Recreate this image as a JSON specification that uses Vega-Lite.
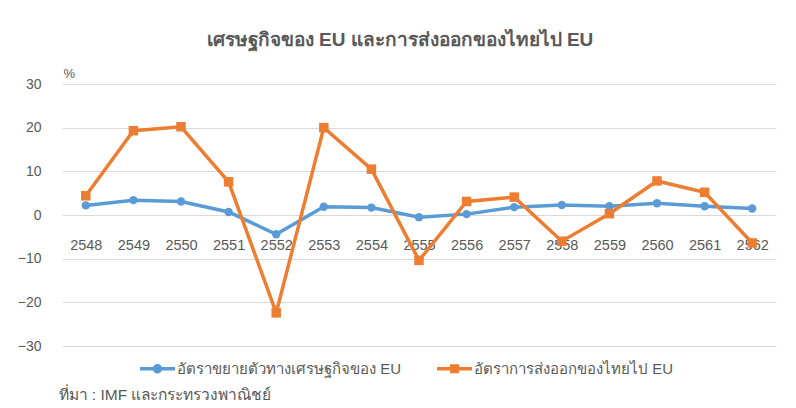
{
  "$schema": "https://vega.github.io/schema/vega-lite/v6.json",
  "width": 714,
  "height": 262,
  "autosize": {"type": "none"},
  "padding": {"left": 62, "top": 84, "right": 20, "bottom": 62},
  "background": "white",
  "config": {
    "font": "Liberation Sans",
    "view": {"stroke": null},
    "legend": {
      "orient": "none",
      "legendX": 78,
      "legendY": 267,
      "direction": "horizontal",
      "columns": 2,
      "columnPadding": 35,
      "symbolSize": 1225,
      "symbolStrokeWidth": 0,
      "symbolOpacity": 1,
      "labelFontSize": 15,
      "labelColor": "#595959",
      "labelOffset": 2,
      "labelLimit": 400,
      "padding": 0
    }
  },
  "title": {
    "text": "เศรษฐกิจของ EU และการส่งออกของไทยไป EU",
    "fontSize": 19,
    "fontWeight": "bold",
    "color": "#595959",
    "anchor": "middle",
    "dx": -19,
    "offset": 17
  },
  "data": {
    "values": [
      {"year": "2548", "series": "อัตราขยายตัวทางเศรษฐกิจของ EU", "value": 2.2},
      {"year": "2549", "series": "อัตราขยายตัวทางเศรษฐกิจของ EU", "value": 3.4},
      {"year": "2550", "series": "อัตราขยายตัวทางเศรษฐกิจของ EU", "value": 3.1},
      {"year": "2551", "series": "อัตราขยายตัวทางเศรษฐกิจของ EU", "value": 0.7},
      {"year": "2552", "series": "อัตราขยายตัวทางเศรษฐกิจของ EU", "value": -4.4},
      {"year": "2553", "series": "อัตราขยายตัวทางเศรษฐกิจของ EU", "value": 1.9},
      {"year": "2554", "series": "อัตราขยายตัวทางเศรษฐกิจของ EU", "value": 1.7},
      {"year": "2555", "series": "อัตราขยายตัวทางเศรษฐกิจของ EU", "value": -0.5},
      {"year": "2556", "series": "อัตราขยายตัวทางเศรษฐกิจของ EU", "value": 0.2},
      {"year": "2557", "series": "อัตราขยายตัวทางเศรษฐกิจของ EU", "value": 1.8},
      {"year": "2558", "series": "อัตราขยายตัวทางเศรษฐกิจของ EU", "value": 2.3},
      {"year": "2559", "series": "อัตราขยายตัวทางเศรษฐกิจของ EU", "value": 2.0},
      {"year": "2560", "series": "อัตราขยายตัวทางเศรษฐกิจของ EU", "value": 2.7},
      {"year": "2561", "series": "อัตราขยายตัวทางเศรษฐกิจของ EU", "value": 2.0},
      {"year": "2562", "series": "อัตราขยายตัวทางเศรษฐกิจของ EU", "value": 1.5},
      {"year": "2548", "series": "อัตราการส่งออกของไทยไป EU", "value": 4.4},
      {"year": "2549", "series": "อัตราการส่งออกของไทยไป EU", "value": 19.3},
      {"year": "2550", "series": "อัตราการส่งออกของไทยไป EU", "value": 20.2},
      {"year": "2551", "series": "อัตราการส่งออกของไทยไป EU", "value": 7.6},
      {"year": "2552", "series": "อัตราการส่งออกของไทยไป EU", "value": -22.4},
      {"year": "2553", "series": "อัตราการส่งออกของไทยไป EU", "value": 20.0},
      {"year": "2554", "series": "อัตราการส่งออกของไทยไป EU", "value": 10.5},
      {"year": "2555", "series": "อัตราการส่งออกของไทยไป EU", "value": -10.4},
      {"year": "2556", "series": "อัตราการส่งออกของไทยไป EU", "value": 3.1},
      {"year": "2557", "series": "อัตราการส่งออกของไทยไป EU", "value": 4.1},
      {"year": "2558", "series": "อัตราการส่งออกของไทยไป EU", "value": -6.0},
      {"year": "2559", "series": "อัตราการส่งออกของไทยไป EU", "value": 0.3},
      {"year": "2560", "series": "อัตราการส่งออกของไทยไป EU", "value": 7.8},
      {"year": "2561", "series": "อัตราการส่งออกของไทยไป EU", "value": 5.2},
      {"year": "2562", "series": "อัตราการส่งออกของไทยไป EU", "value": -6.4}
    ]
  },
  "encoding": {
    "x": {
      "field": "year",
      "type": "ordinal",
      "scale": {"type": "point", "padding": 0.5},
      "axis": {
        "orient": "bottom",
        "offset": -131,
        "domain": false,
        "ticks": false,
        "tickSize": 0,
        "grid": false,
        "labelAngle": 0,
        "labelPadding": 23,
        "labelFontSize": 14.5,
        "labelColor": "#595959",
        "title": "ที่มา : IMF และกระทรวงพาณิชย์",
        "titleFontSize": 15.5,
        "titleFontWeight": "normal",
        "titleColor": "#595959",
        "titleAlign": "left",
        "titleAnchor": "start",
        "titleBaseline": "middle",
        "titleX": -4,
        "titleY": 179
      }
    },
    "y": {
      "field": "value",
      "type": "quantitative",
      "scale": {"domain": [-30, 30], "nice": false, "zero": false},
      "axis": {
        "values": [-30, -20, -10, 0, 10, 20, 30],
        "domain": false,
        "ticks": false,
        "grid": true,
        "gridColor": "#D9D9D9",
        "gridWidth": 1,
        "labelPadding": 21,
        "labelFontSize": 14,
        "labelColor": "#595959",
        "title": "%",
        "titleAngle": 0,
        "titleAlign": "left",
        "titleBaseline": "middle",
        "titleX": 1,
        "titleY": -11,
        "titleFontSize": 13,
        "titleFontWeight": "normal",
        "titleColor": "#595959"
      }
    },
    "color": {
      "field": "series",
      "type": "nominal",
      "sort": ["อัตราขยายตัวทางเศรษฐกิจของ EU", "อัตราการส่งออกของไทยไป EU"],
      "scale": {
        "domain": ["อัตราขยายตัวทางเศรษฐกิจของ EU", "อัตราการส่งออกของไทยไป EU"],
        "range": ["#5B9BD5", "#ED7D31"]
      },
      "legend": {"title": null}
    }
  },
  "layer": [
    {
      "mark": {"type": "line", "strokeWidth": 3.5}
    },
    {
      "mark": {"type": "point", "filled": true, "opacity": 1},
      "encoding": {
        "shape": {
          "condition": {"test": "datum.series === 'อัตราขยายตัวทางเศรษฐกิจของ EU'", "value": "circle"},
          "value": "square"
        },
        "size": {
          "condition": {"test": "datum.series === 'อัตราขยายตัวทางเศรษฐกิจของ EU'", "value": 70},
          "value": 90
        }
      }
    },
    {
      "mark": {"type": "point", "filled": true, "opacity": 0},
      "encoding": {
        "shape": {
          "field": "series",
          "type": "nominal",
          "sort": ["อัตราขยายตัวทางเศรษฐกิจของ EU", "อัตราการส่งออกของไทยไป EU"],
          "scale": {
            "domain": ["อัตราขยายตัวทางเศรษฐกิจของ EU", "อัตราการส่งออกของไทยไป EU"],
            "range": [
              "M-1,-0.1L1,-0.1L1,0.1L-1,0.1Z M0.27,0 A0.27,0.27 0 1,1 -0.27,0 A0.27,0.27 0 1,1 0.27,0Z",
              "M-1,-0.1L1,-0.1L1,0.1L-1,0.1Z M-0.26,-0.26L0.26,-0.26L0.26,0.26L-0.26,0.26Z"
            ]
          },
          "legend": {"title": null}
        }
      }
    }
  ]
}
